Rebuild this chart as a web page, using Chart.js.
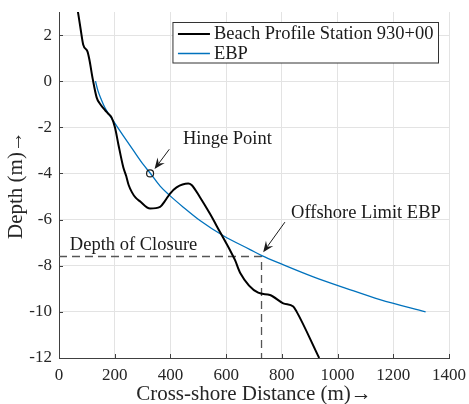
<!DOCTYPE html>
<html>
<head>
<meta charset="utf-8">
<script src="https://cdn.jsdelivr.net/npm/chart.js@4.4.1/dist/chart.umd.min.js"></script>
<style>
  html, body { margin: 0; padding: 0; background: #fff; }
</style>
</head>
<body>
<canvas id="profile" width="469" height="404"></canvas>
<script>
// surveyed beach profile, station 930+00
const profileX = [66, 69, 78, 87, 102, 109, 121, 135, 147, 165, 177, 189, 201, 213, 231, 241, 250, 262, 275, 290, 327, 363, 380, 398, 422, 464, 476, 506, 542, 578, 614, 632, 650, 715, 757, 805, 841, 853, 934];
const profileY = [3.15, 2.93, 2.23, 1.58, 1.29, 0.94, 0.1, -0.7, -0.98, -1.25, -1.41, -1.58, -2.01, -2.73, -3.74, -4.1, -4.5, -4.82, -5.05, -5.2, -5.52, -5.45, -5.2, -4.88, -4.6, -4.43, -4.5, -5.03, -5.75, -6.54, -7.33, -7.76, -8.3, -9.17, -9.27, -9.63, -9.77, -9.99, -12.0];

// equilibrium beach profile
const ebpX = [131, 140, 152, 165, 195, 231, 267, 303, 327, 363, 398, 446, 506, 590, 686, 728, 800, 913, 1033, 1152, 1316];
const ebpY = [0, -0.42, -0.8, -1.15, -1.72, -2.37, -3.0, -3.62, -3.98, -4.55, -4.96, -5.46, -6.04, -6.7, -7.3, -7.56, -7.93, -8.48, -8.99, -9.47, -10.0];

const hingeX = [327];
const hingeY = [-4.0];

const closureDepth = -7.6;
const offshoreLimitX = 727;

const xTicks = [0, 200, 400, 600, 800, 1000, 1200, 1400];
const yTicks = [-12, -10, -8, -6, -4, -2, 0, 2];

const serif = "'Liberation Serif', 'Times New Roman', serif";
const axisColor = '#404040';
const toPoints = (xs, ys) => xs.map((x, i) => ({ x: x, y: ys[i] }));

// text labels and arrows, in data units
const notes = [
  { text: 'Hinge Point', x: 445, y: -2.5, from: [396, -2.95], to: [343, -3.81] },
  { text: 'Offshore Limit EBP', x: 833, y: -5.74, from: [811, -6.11], to: [733, -7.42] },
  { text: 'Depth of Closure', x: 39, y: -7.12 },
];

function arrow(ctx, x0, y0, x1, y1) {
  const a = Math.atan2(y1 - y0, x1 - x0);
  const len = 11, half = 4.5, back = 7;
  ctx.beginPath();
  ctx.moveTo(x0, y0);
  ctx.lineTo(x1 - Math.cos(a) * back, y1 - Math.sin(a) * back);
  ctx.stroke();
  const bx = x1 - Math.cos(a) * len, by = y1 - Math.sin(a) * len;
  ctx.beginPath();
  ctx.moveTo(x1, y1);
  ctx.lineTo(bx - Math.sin(a) * half, by + Math.cos(a) * half);
  ctx.lineTo(x1 - Math.cos(a) * back, y1 - Math.sin(a) * back);
  ctx.lineTo(bx + Math.sin(a) * half, by - Math.cos(a) * half);
  ctx.closePath();
  ctx.fill();
}

// keep the plot box fixed: no extra room for overhanging tick labels
function fixBox(size, key) {
  return s => {
    s[key] = size;
    s.paddingTop = s.paddingBottom = s.paddingLeft = s.paddingRight = 0;
  };
}

const extras = {
  id: 'extras',
  afterDatasetsDraw(chart) {
    const { ctx, chartArea: area, scales: { x, y } } = chart;
    ctx.save();

    // inward tick marks
    ctx.strokeStyle = axisColor;
    ctx.lineWidth = 1;
    ctx.beginPath();
    xTicks.forEach(v => {
      const px = Math.round(x.getPixelForValue(v)) + 0.5;
      ctx.moveTo(px, area.bottom);
      ctx.lineTo(px, area.bottom - 4);
    });
    yTicks.forEach(v => {
      const py = Math.round(y.getPixelForValue(v)) + 0.5;
      ctx.moveTo(area.left, py);
      ctx.lineTo(area.left + 4, py);
    });
    ctx.stroke();

    // annotations
    ctx.font = '18.5px ' + serif;
    ctx.fillStyle = '#1a1a1a';
    ctx.strokeStyle = '#1a1a1a';
    ctx.lineWidth = 1;
    ctx.textAlign = 'left';
    ctx.textBaseline = 'middle';
    notes.forEach(n => {
      ctx.fillText(n.text, x.getPixelForValue(n.x), y.getPixelForValue(n.y));
      if (n.from) {
        arrow(ctx,
          x.getPixelForValue(n.from[0]), y.getPixelForValue(n.from[1]),
          x.getPixelForValue(n.to[0]), y.getPixelForValue(n.to[1]));
      }
    });

    // legend box
    const items = chart.data.datasets.filter(d => d.inLegend);
    const textW = Math.max(...items.map(d => ctx.measureText(d.label).width));
    const right = area.right - 10.5;
    const top = area.top + 10.5;
    const w = 5 + 32 + 4 + textW + 5;
    const h = 40.5;
    const left = right - w;
    ctx.fillStyle = '#fff';
    ctx.fillRect(left, top, w, h);
    ctx.strokeStyle = '#333';
    ctx.lineWidth = 1;
    ctx.strokeRect(left, top, w, h);
    items.forEach((d, i) => {
      const cy = top + 11.5 + i * 19.5;
      ctx.strokeStyle = d.borderColor;
      ctx.lineWidth = d.borderWidth;
      ctx.beginPath();
      ctx.moveTo(left + 5, cy);
      ctx.lineTo(left + 37, cy);
      ctx.stroke();
      ctx.fillStyle = '#1a1a1a';
      ctx.fillText(d.label, left + 41, cy + 0.5);
    });
    ctx.restore();
  }
};

new Chart(document.getElementById('profile'), {
  type: 'scatter',
  data: {
    datasets: [
      {
        label: 'Beach Profile Station 930+00',
        data: toPoints(profileX, profileY),
        showLine: true,
        borderColor: '#000000',
        borderWidth: 2,
        pointRadius: 0,
        cubicInterpolationMode: 'monotone',
        inLegend: true,
        order: 1,
      },
      {
        label: 'EBP',
        data: toPoints(ebpX, ebpY),
        showLine: true,
        borderColor: '#0072BD',
        borderWidth: 1.3,
        pointRadius: 0,
        cubicInterpolationMode: 'monotone',
        inLegend: true,
        order: 2,
      },
      {
        label: 'Depth of Closure',
        data: [
          { x: xTicks[0], y: closureDepth },
          { x: offshoreLimitX, y: closureDepth },
          { x: offshoreLimitX, y: yTicks[0] },
        ],
        showLine: true,
        borderColor: '#555555',
        borderWidth: 1.3,
        borderDash: [8, 5],
        pointRadius: 0,
        order: 3,
      },
      {
        label: 'Hinge Point',
        data: toPoints(hingeX, hingeY),
        pointStyle: 'circle',
        pointRadius: 3.5,
        borderColor: '#1a1a1a',
        borderWidth: 1.2,
        backgroundColor: 'rgba(0,0,0,0)',
        order: 0,
      },
    ],
  },
  options: {
    responsive: false,
    animation: false,
    devicePixelRatio: 1,
    layout: { padding: { top: 12, right: 20, left: 0, bottom: 0 } },
    plugins: {
      legend: { display: false },
      tooltip: { enabled: false },
    },
    scales: {
      x: {
        type: 'linear',
        min: 0,
        max: 1400,
        afterBuildTicks: s => { s.ticks = xTicks.map(v => ({ value: v })); },
        afterFit: fixBox(46, 'height'),
        grid: { color: '#e3e3e3', drawTicks: false },
        border: { color: axisColor, width: 1 },
        ticks: {
          color: '#262626',
          padding: 7,
          font: { family: serif, size: 17 },
          callback: v => String(v),
        },
        title: {
          display: true,
          text: 'Cross-shore Distance (m)\u2192',
          color: '#262626',
          padding: 0,
          font: { family: serif, size: 21, lineHeight: 0.9 },
        },
      },
      y: {
        type: 'linear',
        min: -12,
        max: 3,
        afterBuildTicks: s => { s.ticks = yTicks.map(v => ({ value: v })); },
        afterFit: fixBox(59, 'width'),
        grid: { color: '#e3e3e3', drawTicks: false },
        border: { color: axisColor, width: 1 },
        ticks: {
          color: '#262626',
          padding: 7,
          font: { family: serif, size: 17 },
          callback: v => String(v),
        },
        title: {
          display: true,
          text: 'Depth (m)\u2192',
          color: '#262626',
          padding: { top: 4, bottom: 0 },
          font: { family: serif, size: 21, lineHeight: 1.2 },
        },
      },
    },
  },
  plugins: [extras],
});
</script>
</body>
</html>
